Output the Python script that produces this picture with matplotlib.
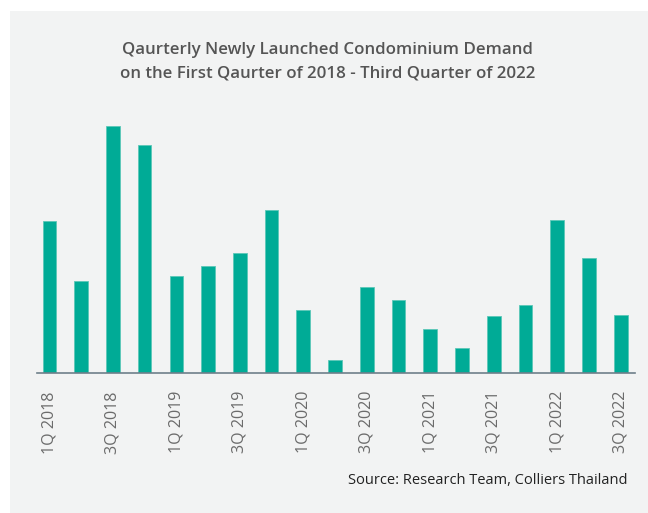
import numpy as np
from matplotlib import pyplot as plt
from matplotlib.patches import Rectangle

# quarters, 1Q 2018 .. 3Q 2022
quarters = ['1Q 2018', '2Q 2018', '3Q 2018', '4Q 2018',
            '1Q 2019', '2Q 2019', '3Q 2019', '4Q 2019',
            '1Q 2020', '2Q 2020', '3Q 2020', '4Q 2020',
            '1Q 2021', '2Q 2021', '3Q 2021', '4Q 2021',
            '1Q 2022', '2Q 2022', '3Q 2022']
# demand (no axis in the original, relative scale)
demand = [152, 92, 247, 228, 97, 107, 120, 163, 63, 13,
          86, 73, 44, 25, 57, 68, 153, 115, 58]

bar_color = '#00ab96'
bg_color = '#f2f3f3'
W, H = 648, 513

fig = plt.figure(figsize=(6.48, 5.13), dpi=100)
fig.patch.set_facecolor('white')
fig.patches.append(Rectangle((10 / W, 0), 1 - 10 / W, 1 - 11 / H,
                             transform=fig.transFigure, facecolor=bg_color,
                             edgecolor='none', zorder=-1))

# axes placed in pixel terms: baseline at y=373, from x=37 to 635
ax = fig.add_axes([37 / W, 1 - 373 / H, (635 - 37) / W, (373 - 110) / H])
ax.set_facecolor('none')
ax.set_zorder(2)

x = np.arange(len(quarters))
ax.bar(x, demand, width=0.43, color=bar_color, edgecolor='#5cc7b8',
       linewidth=0.6)

ax.set_xlim(-0.39, len(quarters) - 1 + 0.45)
ax.set_ylim(0, 263)

for s in ['top', 'right', 'left']:
    ax.spines[s].set_visible(False)
ax.spines['bottom'].set_color('#6f7f8a')
ax.spines['bottom'].set_linewidth(1.2)

ax.set_yticks([])
ax.set_xticks(x[::2])
ax.set_xticklabels(quarters[::2], rotation=90, fontsize=11.6,
                   color='#6b6b6b', family='Open Sans')
ax.tick_params(axis='x', length=0, pad=13)

fig.text(0.505, 1 - 50 / H, 'Qaurterly Newly Launched Condominium Demand',
         ha='center', va='center', fontsize=12.2, fontweight='semibold',
         color='#555555', family='Open Sans')
fig.text(0.505, 1 - 74 / H, 'on the First Qaurter of 2018 - Third Quarter of 2022',
         ha='center', va='center', fontsize=12.2, fontweight='semibold',
         color='#555555', family='Open Sans')

fig.text(628 / W, 1 - 480 / H, 'Source: Research Team, Colliers Thailand',
         ha='right', va='center', fontsize=10.5, color='#222222',
         family='Open Sans')

fig.savefig('out.png', dpi=100)
